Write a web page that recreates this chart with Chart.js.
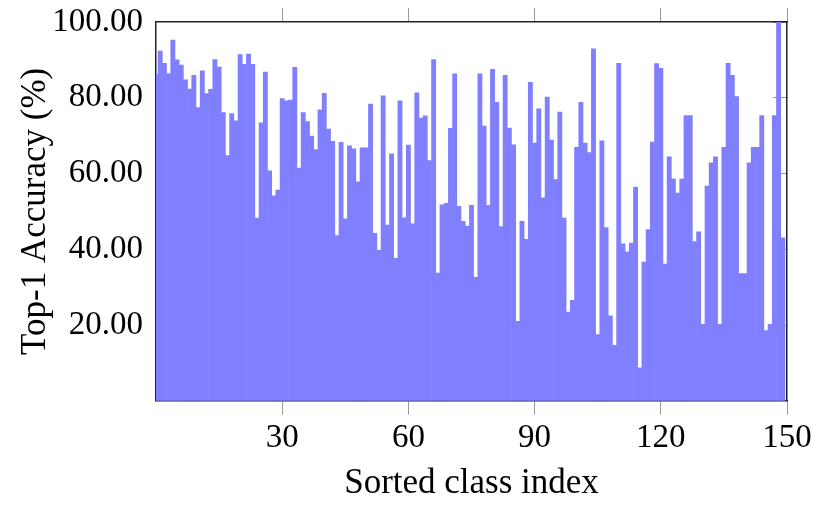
<!DOCTYPE html>
<html>
<head>
<meta charset="utf-8">
<script src="https://cdn.jsdelivr.net/npm/chart.js@4"></script>
<style>
  body { margin: 0; background: #fff; }
  canvas { display: block; }
</style>
</head>
<body>
<canvas id="myChart" width="823" height="505"></canvas>
<script>
// top-1 accuracy per class, classes sorted, index 0..149
const accuracy = [
  86.2, 92.3, 89.1, 86.4, 95.2, 90.0, 88.6, 84.7, 82.3, 85.9,
  77.4, 87.1, 81.1, 82.2, 90.1, 88.1, 76.1, 64.7, 75.8, 73.9,
  91.4, 88.8, 91.5, 88.8, 48.2, 73.4, 86.8, 60.7, 54.1, 55.6,
  79.8, 79.2, 79.4, 88.0, 61.4, 76.1, 73.7, 69.9, 66.3, 76.8,
  81.2, 71.7, 68.5, 43.6, 68.2, 48.0, 67.3, 66.5, 57.8, 66.8,
  66.8, 78.3, 44.2, 39.7, 80.5, 46.4, 65.2, 37.6, 79.2, 48.3,
  67.5, 46.7, 81.3, 74.6, 75.2, 63.4, 90.1, 33.7, 51.7, 52.1,
  71.9, 86.3, 51.3, 47.4, 46.1, 51.6, 32.6, 86.3, 72.5, 51.6,
  87.5, 78.8, 46.0, 85.9, 72.0, 67.6, 21.0, 47.4, 42.6, 84.1,
  68.0, 77.1, 53.6, 80.2, 68.8, 58.4, 76.2, 48.2, 23.4, 26.5,
  66.9, 78.8, 68.0, 65.5, 92.9, 17.5, 68.6, 45.7, 22.4, 14.6,
  89.1, 41.4, 39.3, 41.6, 56.4, 8.7, 36.6, 45.2, 68.3, 89.0,
  87.8, 36.1, 64.4, 58.6, 54.8, 58.5, 75.3, 75.3, 42.0, 44.6,
  20.2, 56.7, 62.8, 64.4, 20.2, 66.9, 89.1, 85.9, 80.3, 33.6,
  33.6, 62.8, 66.9, 66.9, 75.3, 18.5, 20.2, 75.3, 100.0, 43.0
];
const xTicks = [30, 60, 90, 120, 150];
const yTicks = [20, 40, 60, 80, 100];
const xTitle = 'Sorted class index';
const yTitle = 'Top-1 Accuracy (%)';

const serif = "'Liberation Serif', 'Times New Roman', serif";
const axisColor = '#222';
const tickColor = '#999';

function setTicks(list) {
  return function (scale) {
    scale.ticks = list.map(v => ({ value: v }));
  };
}

const data = {
  datasets: [{
    data: accuracy.map((v, i) => ({ x: i, y: v })),
    backgroundColor: '#8080ff',
    borderWidth: 0,
    barPercentage: 1,
    categoryPercentage: 1,
    clip: 0
  }]
};

const config = {
  type: 'bar',
  data: data,
  options: {
    responsive: false,
    animation: false,
    devicePixelRatio: 1,
    layout: { padding: 0 },
    plugins: {
      legend: { display: false },
      tooltip: { enabled: false }
    },
    scales: {
      x: {
        type: 'linear',
        position: 'bottom',
        min: 0,
        max: 150,
        offset: false,
        afterBuildTicks: setTicks(xTicks),
        afterFit: s => { s.height = 104.25; },
        grid: { drawOnChartArea: false, drawTicks: true, tickLength: 14, color: tickColor, lineWidth: 1, offset: false },
        border: { display: true, color: axisColor, width: 1.5 },
        ticks: { color: '#000', font: { family: serif, size: 33 }, padding: 4, maxRotation: 0, autoSkip: false },
        title: { display: true, text: xTitle, color: '#000', font: { family: serif, size: 35 }, padding: { top: 0, bottom: 0 } }
      },
      x2: {
        type: 'linear',
        position: 'top',
        min: 0,
        max: 150,
        offset: false,
        afterBuildTicks: setTicks(xTicks),
        afterFit: s => { s.height = 22; },
        grid: { drawOnChartArea: false, drawTicks: true, tickLength: 14, color: tickColor, lineWidth: 1, offset: false },
        border: { display: true, color: axisColor, width: 1.5 },
        ticks: { display: false }
      },
      y: {
        type: 'linear',
        position: 'left',
        min: 0,
        max: 100,
        afterBuildTicks: setTicks(yTicks),
        afterFit: s => { s.width = 156; },
        // tick marks hidden under the bars, only used to space the labels
        grid: { drawOnChartArea: false, drawTicks: true, tickLength: 13, color: 'rgba(0,0,0,0)' },
        border: { display: true, color: axisColor, width: 1.5 },
        ticks: {
          color: '#000',
          font: { family: serif, size: 33 },
          padding: 0,
          callback: v => v.toFixed(2)
        },
        title: { display: true, text: yTitle, color: '#000', font: { family: serif, size: 35 }, padding: { top: 15, bottom: 0 } }
      },
      y2: {
        type: 'linear',
        position: 'right',
        min: 0,
        max: 100,
        afterBuildTicks: setTicks(yTicks),
        afterFit: s => { s.width = 36; },
        grid: { drawOnChartArea: false, drawTicks: true, tickLength: -14, color: tickColor, lineWidth: 1 },
        border: { display: true, color: axisColor, width: 1.5 },
        ticks: { display: false }
      }
    }
  }
};

var myChart = new Chart(document.getElementById('myChart'), config);
</script>
</body>
</html>
